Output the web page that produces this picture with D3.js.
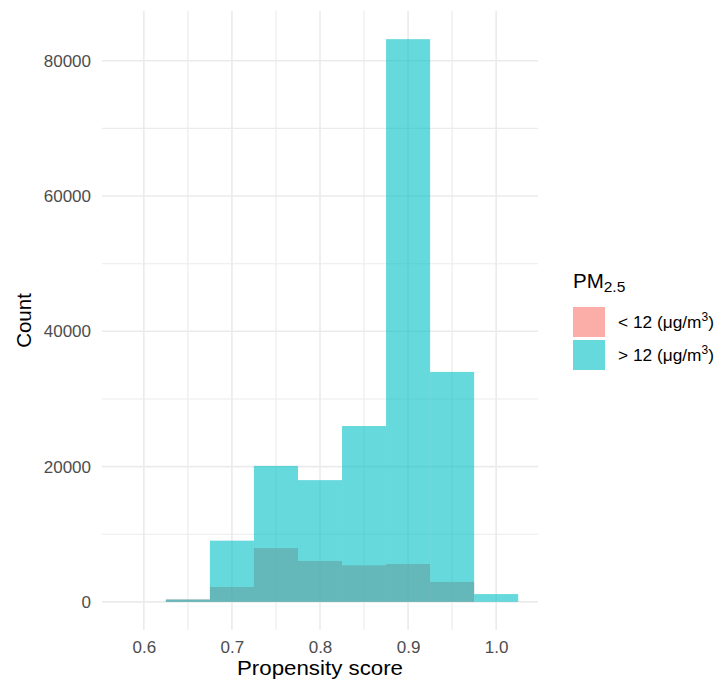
<!DOCTYPE html>
<html>
<head>
<meta charset="utf-8">
<script src="https://cdn.jsdelivr.net/npm/d3@7"></script>
<style>
  html, body { margin: 0; padding: 0; background: #ffffff; }
  svg { display: block; font-family: "Liberation Sans", Arial, Helvetica, sans-serif; }
</style>
</head>
<body>
<svg id="chart" width="724" height="684"></svg>
<script>
// Histogram bins (centre of each 0.05-wide bin) and counts per PM2.5 group
const binCenters = [0.60, 0.65, 0.70, 0.75, 0.80, 0.85, 0.90, 0.95, 1.00];
const binWidth = 0.05;
const countsLow  = [0, 350, 2200, 7950, 6050, 5400, 5600, 2950, 0];       // < 12 µg/m³
const countsHigh = [0, 350, 9050, 20100, 18000, 26000, 83200, 34000, 1150]; // > 12 µg/m³
const groupLabels = ["< 12 (\u03BCg/m", "> 12 (\u03BCg/m"];
const groupColors = ["#F8766D", "#00BFC4"];
const xTicks = [0.6, 0.7, 0.8, 0.9, 1.0];
const yTicks = [0, 20000, 40000, 60000, 80000];

const svg = d3.select("#chart");
const panel = { left: 102, right: 538, top: 11, bottom: 630 };

// ggplot-style 5% expansion on both axes
const xMin = d3.min(binCenters) - binWidth / 2;
const xMax = d3.max(binCenters) + binWidth / 2;
const xPad = (xMax - xMin) * 0.05;
const x = d3.scaleLinear().domain([xMin - xPad, xMax + xPad]).range([panel.left, panel.right]);

const yMax = d3.max(countsLow.concat(countsHigh));
const y = d3.scaleLinear().domain([-yMax * 0.05, yMax * 1.05]).range([panel.bottom, panel.top]);

// Grid lines
const grid = svg.append("g").attr("class", "grid");
const xMinor = xTicks.slice(0, -1).map((t, i) => (t + xTicks[i + 1]) / 2);
const yMinor = yTicks.slice(0, -1).map((t, i) => (t + yTicks[i + 1]) / 2);

grid.selectAll("line.xminor").data(xMinor).join("line")
  .attr("x1", d => x(d)).attr("x2", d => x(d))
  .attr("y1", panel.top).attr("y2", panel.bottom)
  .attr("stroke", "#EBEBEB").attr("stroke-width", 1.1);
grid.selectAll("line.yminor").data(yMinor).join("line")
  .attr("y1", d => y(d)).attr("y2", d => y(d))
  .attr("x1", panel.left).attr("x2", panel.right)
  .attr("stroke", "#EBEBEB").attr("stroke-width", 1.1);
grid.selectAll("line.xmajor").data(xTicks).join("line")
  .attr("x1", d => x(d)).attr("x2", d => x(d))
  .attr("y1", panel.top).attr("y2", panel.bottom)
  .attr("stroke", "#EBEBEB").attr("stroke-width", 1.6);
grid.selectAll("line.ymajor").data(yTicks).join("line")
  .attr("y1", d => y(d)).attr("y2", d => y(d))
  .attr("x1", panel.left).attr("x2", panel.right)
  .attr("stroke", "#EBEBEB").attr("stroke-width", 1.6);

// Bars: both groups overlaid with transparency
const series = [countsLow, countsHigh];
series.forEach((counts, gi) => {
  svg.append("g").selectAll("rect")
    .data(binCenters.map((c, i) => ({ c, n: counts[i] })).filter(d => d.n > 0))
    .join("rect")
    .attr("x", d => x(d.c - binWidth / 2))
    .attr("width", d => x(d.c + binWidth / 2) - x(d.c - binWidth / 2))
    .attr("y", d => y(d.n))
    .attr("height", d => y(0) - y(d.n))
    .attr("fill", groupColors[gi])
    .attr("fill-opacity", 0.6);
});

// Axes (labels only, no lines)
const xAxis = svg.append("g")
  .attr("transform", `translate(0,${panel.bottom + 5})`)
  .call(d3.axisBottom(x).tickValues(xTicks).tickFormat(d3.format(".1f")).tickSize(0).tickPadding(6));
const yAxis = svg.append("g")
  .attr("transform", `translate(${panel.left - 11},0)`)
  .call(d3.axisLeft(y).tickValues(yTicks).tickFormat(d3.format("d")).tickSize(0).tickPadding(0));
[xAxis, yAxis].forEach(a => {
  a.select(".domain").remove();
  a.selectAll("text")
    .attr("fill", "#4D4D4D")
    .style("font-size", "17px")
    .style("font-family", "'Liberation Sans', Arial, sans-serif");
});

// Axis titles
svg.append("text")
  .attr("x", (panel.left + panel.right) / 2)
  .attr("y", 675)
  .attr("text-anchor", "middle")
  .attr("textLength", 166)
  .attr("lengthAdjust", "spacingAndGlyphs")
  .style("font-size", "19.5px")
  .attr("fill", "#000")
  .text("Propensity score");

svg.append("text")
  .attr("transform", `translate(31,${(panel.top + panel.bottom) / 2}) rotate(-90)`)
  .attr("text-anchor", "middle")
  .style("font-size", "20.5px")
  .attr("fill", "#000")
  .text("Count");

// Legend
const legend = svg.append("g").attr("transform", "translate(573,0)");
const title = legend.append("text")
  .attr("x", 0).attr("y", 288)
  .style("font-size", "20.5px")
  .attr("fill", "#000");
title.append("tspan").text("PM");
title.append("tspan").attr("dy", 4).style("font-size", "15.5px").text("2.5");

groupLabels.forEach((lab, i) => {
  const top = 307 + i * 33;
  legend.append("rect")
    .attr("x", 0).attr("y", top)
    .attr("width", 32).attr("height", 30)
    .attr("fill", groupColors[i])
    .attr("fill-opacity", 0.6);
  const t = legend.append("text")
    .attr("x", 45).attr("y", top + 21)
    .style("font-size", "17.3px")
    .attr("fill", "#000");
  t.append("tspan").text(lab);
  t.append("tspan").attr("dy", -7).style("font-size", "12px").text("3");
  t.append("tspan").attr("dy", 7).text(")");
});
</script>
</body>
</html>
